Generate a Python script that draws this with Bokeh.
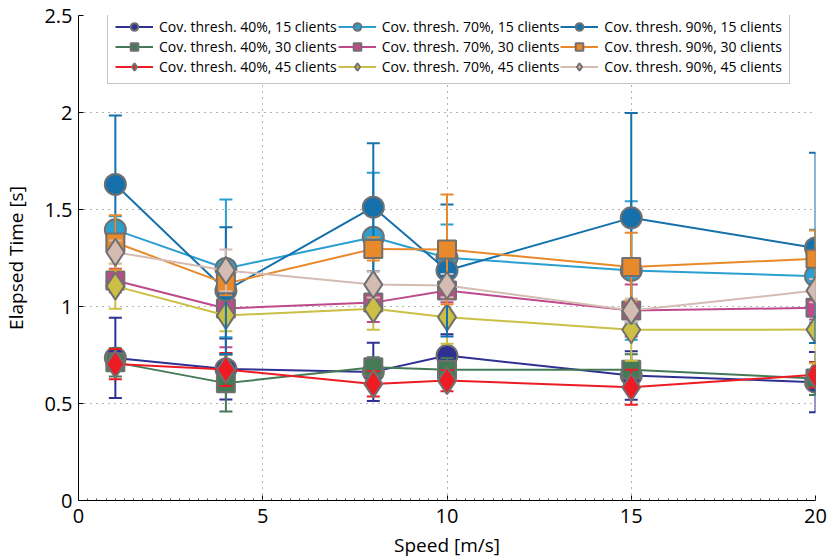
from bokeh.plotting import figure
from bokeh.models import ColumnDataSource, FixedTicker, Legend, LegendItem, Range1d
from bokeh.embed import file_html
from bokeh.resources import INLINE

# Mean elapsed time per node speed, with the error-bar half widths
speeds = [1, 4, 8, 10, 15, 20]

t40_15 = [0.735, 0.678, 0.663, 0.747, 0.644, 0.610]
e40_15 = [0.207, 0.157, 0.150, 0.110, 0.125, 0.155]
t40_30 = [0.712, 0.605, 0.687, 0.674, 0.674, 0.629]
e40_30 = [0.073, 0.146, 0.052, 0.060, 0.080, 0.085]
t40_45 = [0.703, 0.675, 0.601, 0.618, 0.584, 0.648]
e40_45 = [0.078, 0.085, 0.065, 0.055, 0.090, 0.065]

t70_15 = [1.395, 1.196, 1.357, 1.251, 1.186, 1.156]
e70_15 = [0.070, 0.355, 0.332, 0.172, 0.357, 0.240]
t70_30 = [1.134, 0.990, 1.020, 1.082, 0.979, 0.993]
e70_30 = [0.060, 0.200, 0.100, 0.060, 0.134, 0.060]
t70_45 = [1.105, 0.954, 0.988, 0.945, 0.880, 0.881]
e70_45 = [0.117, 0.081, 0.108, 0.137, 0.160, 0.175]

t90_15 = [1.629, 1.082, 1.512, 1.186, 1.457, 1.302]
e90_15 = [0.355, 0.327, 0.330, 0.340, 0.540, 0.490]
t90_30 = [1.330, 1.118, 1.297, 1.294, 1.203, 1.246]
e90_30 = [0.140, 0.060, 0.060, 0.283, 0.177, 0.146]
t90_45 = [1.280, 1.186, 1.113, 1.108, 0.979, 1.082]
e90_45 = [0.060, 0.108, 0.067, 0.060, 0.060, 0.060]

labels = [
    "Cov. thresh. 40%, 15 clients", "Cov. thresh. 40%, 30 clients", "Cov. thresh. 40%, 45 clients",
    "Cov. thresh. 70%, 15 clients", "Cov. thresh. 70%, 30 clients", "Cov. thresh. 70%, 45 clients",
    "Cov. thresh. 90%, 15 clients", "Cov. thresh. 90%, 30 clients", "Cov. thresh. 90%, 45 clients",
]

x_ticks = [0, 5, 10, 15, 20]
y_ticks = [0, 0.5, 1, 1.5, 2, 2.5]
y_tick_labels = ["0", "0.5", "1", "1.5", "2", "2.5"]

series = [
    (t40_15, e40_15, "#2E3192", "circle", 21),
    (t40_30, e40_30, "#457A56", "square", 18),
    (t40_45, e40_45, "#ED1C24", "diamond", 27),
    (t70_15, e70_15, "#2A9FD0", "circle", 21),
    (t70_30, e70_30, "#BE4A8B", "square", 18),
    (t70_45, e70_45, "#CBBF45", "diamond", 27),
    (t90_15, e90_15, "#1570AC", "circle", 21),
    (t90_30, e90_30, "#E8892B", "square", 18),
    (t90_45, e90_45, "#D5BCB3", "diamond", 27),
]

FONT = "Open Sans"
EDGE = "#707070"

p = figure(
    width=830, height=560,
    frame_width=737, frame_height=485,
    min_border_left=78, min_border_right=15, min_border_top=15, min_border_bottom=60,
    x_range=Range1d(0, 20), y_range=Range1d(0, 2.5),
    output_backend="svg", toolbar_location=None,
)
p.outline_line_color = None
p.background_fill_color = "white"

items = []
for (vals, errs, color, marker, size), label in zip(series, labels):
    lo = [v - e for v, e in zip(vals, errs)]
    hi = [v + e for v, e in zip(vals, errs)]
    src = ColumnDataSource(dict(x=speeds, y=vals, lo=lo, hi=hi))
    p.segment(x0="x", y0="lo", x1="x", y1="hi", source=src, line_color=color, line_width=2)
    p.scatter(x="x", y="lo", source=src, marker="dash", size=13, line_color=color, line_width=2)
    p.scatter(x="x", y="hi", source=src, marker="dash", size=13, line_color=color, line_width=2)
    ln = p.line(x="x", y="y", source=src, line_color=color, line_width=2)
    mk = p.scatter(x="x", y="y", source=src, marker=marker, size=size,
                   fill_color=color, line_color=EDGE, line_width=2)
    items.append(LegendItem(label=label, renderers=[ln, mk]))

legend = Legend(
    items=items, ncols=3, orientation="vertical",
    location=(29, 416),
    label_text_font=FONT, label_text_font_size="14px", label_text_color="black",
    glyph_width=38, glyph_height=19, label_height=19, label_standoff=6,
    spacing=1, padding=7, margin=0,
    border_line_color="#8a8a8a", border_line_width=1,
    background_fill_color="white", background_fill_alpha=1.0,
)
p.add_layout(legend)

# Axes
p.xaxis.ticker = FixedTicker(ticks=x_ticks, minor_ticks=[i * 0.25 for i in range(81)])
p.yaxis.ticker = FixedTicker(ticks=y_ticks, minor_ticks=[])
p.yaxis.major_label_overrides = {v: s for v, s in zip(y_ticks, y_tick_labels)}
for ax in (p.xaxis[0], p.yaxis[0]):
    ax.axis_line_color = "black"
    ax.axis_line_width = 1
    ax.major_tick_in = 5
    ax.major_tick_out = 0
    ax.minor_tick_in = 2
    ax.minor_tick_out = 0
    ax.major_tick_line_color = "black"
    ax.minor_tick_line_color = "#444444"
    ax.major_label_text_font = FONT
    ax.major_label_text_font_size = "20px"
    ax.major_label_text_color = "black"
    ax.axis_label_text_font = FONT
    ax.axis_label_text_font_size = "19px"
    ax.axis_label_text_font_style = "normal"
    ax.axis_label_text_color = "black"

p.xaxis.axis_label = "Speed [m/s]"
p.yaxis.axis_label = "Elapsed Time [s]"
p.xaxis.major_label_standoff = 8
p.yaxis.major_label_standoff = 6
p.xaxis.axis_label_standoff = 6
p.yaxis.axis_label_standoff = 12

# Dotted grid
for g in (p.xgrid[0], p.ygrid[0]):
    g.grid_line_color = "#333333"
    g.grid_line_width = 1
    g.grid_line_dash = "1 5"
    g.grid_line_alpha = 0.75

open("out.html", "w").write(file_html(p, INLINE))
